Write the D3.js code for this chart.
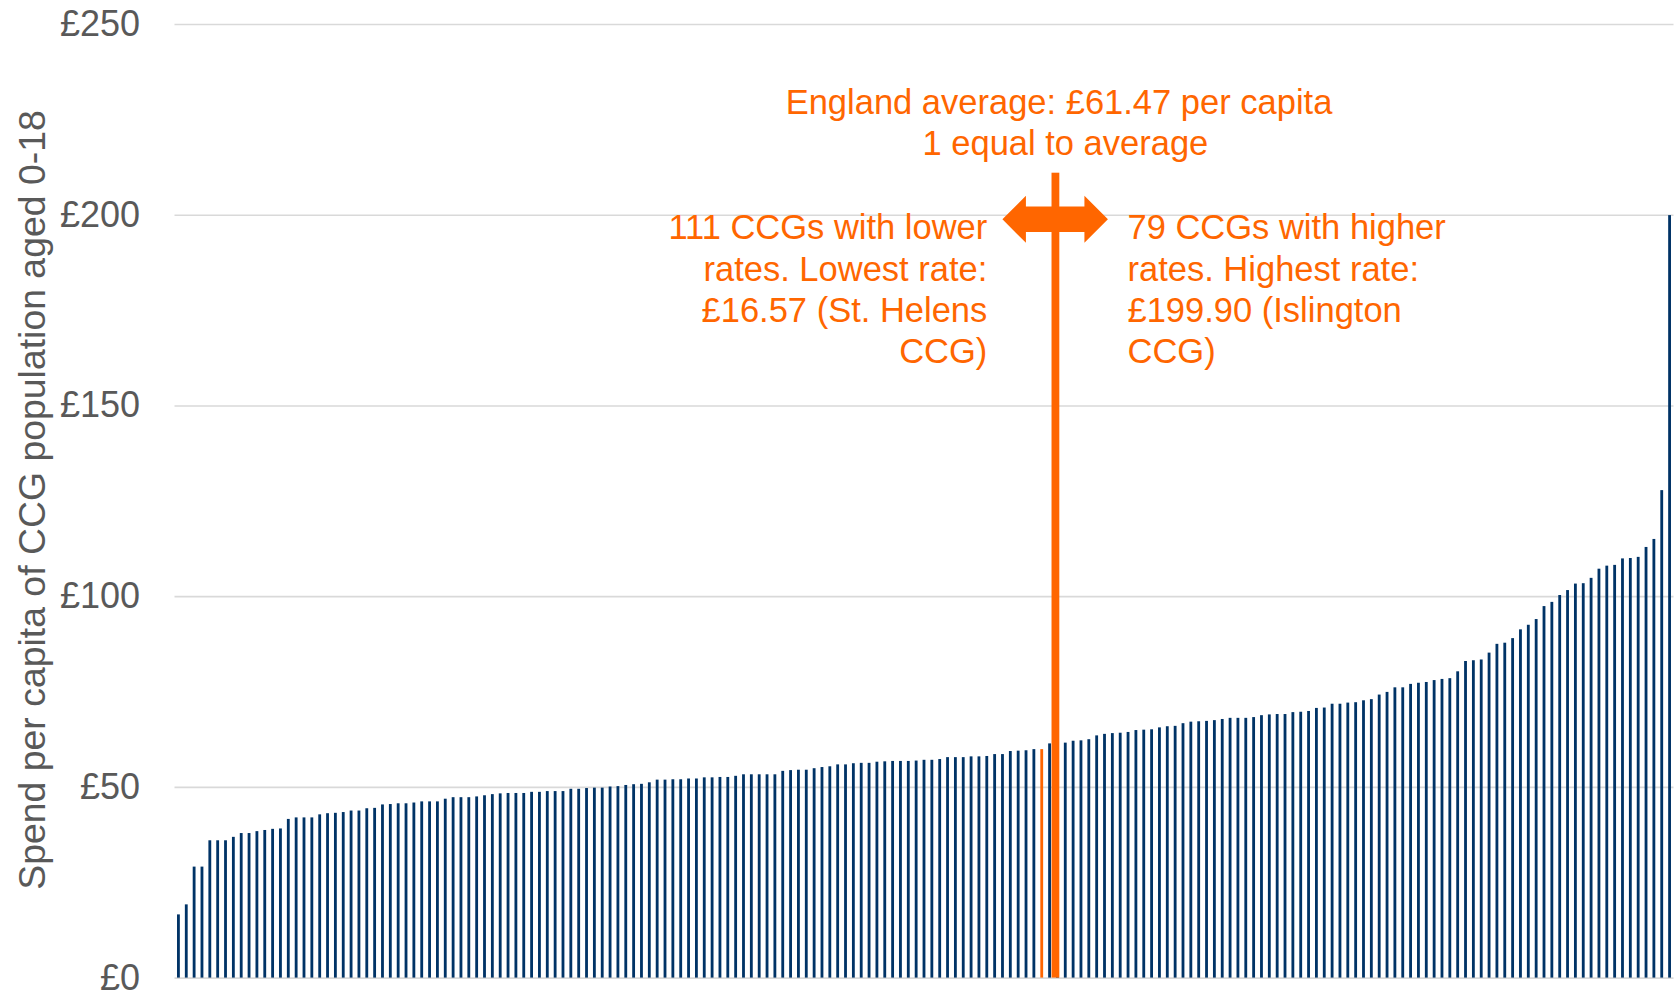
<!DOCTYPE html>
<html>
<head>
<meta charset="utf-8">
<script src="https://cdn.jsdelivr.net/npm/d3@7"></script>
<style>
  body { margin: 0; background: #fff; }
  text { font-family: "Liberation Sans", Arial, sans-serif; }
</style>
</head>
<body>
<div id="chart-area"></div>
<script>
const WIDTH = 1679
const HEIGHT = 994

// spend per capita, CCGs sorted low to high
const values = [
  16.57, 19.2, 29.1, 29.1, 36.0, 36.0, 36.0, 36.9, 37.9, 37.9,
  38.4, 38.7, 39.0, 39.1, 41.6, 42.0, 42.0, 42.0, 42.8, 43.1,
  43.2, 43.4, 43.8, 43.8, 44.4, 44.5, 45.4, 45.5, 45.7, 45.7,
  45.9, 46.2, 46.2, 46.2, 46.9, 47.3, 47.3, 47.3, 47.5, 47.8,
  48.1, 48.3, 48.4, 48.4, 48.4, 48.7, 48.7, 48.9, 48.9, 48.9,
  49.5, 49.5, 49.7, 49.8, 49.8, 50.1, 50.2, 50.5, 50.7, 50.8,
  51.2, 51.9, 51.9, 52.0, 52.0, 52.2, 52.2, 52.5, 52.5, 52.6,
  52.6, 52.9, 53.3, 53.3, 53.3, 53.3, 53.3, 54.2, 54.4, 54.5,
  54.5, 54.9, 55.2, 55.4, 55.9, 55.9, 56.2, 56.3, 56.3, 56.6,
  56.7, 56.8, 56.8, 56.8, 56.9, 57.1, 57.1, 57.3, 57.8, 57.8,
  57.8, 58.0, 58.0, 58.1, 58.6, 58.6, 59.4, 59.5, 59.6, 59.9,
  59.9, 61.4, 61.5, 61.6, 62.1, 62.2, 62.5, 63.5, 63.9, 64.1,
  64.2, 64.4, 64.9, 65.0, 65.1, 65.6, 65.9, 66.0, 66.7, 67.1,
  67.2, 67.3, 67.5, 67.8, 68.1, 68.1, 68.1, 68.3, 68.8, 69.0,
  69.1, 69.1, 69.6, 69.7, 69.9, 70.7, 70.8, 71.8, 71.8, 72.1,
  72.2, 72.7, 73.0, 74.2, 74.9, 76.1, 76.1, 77.0, 77.3, 77.5,
  78.0, 78.3, 78.5, 80.3, 83.0, 83.2, 83.4, 85.2, 87.5, 87.8,
  89.0, 91.3, 92.5, 94.0, 97.4, 98.5, 100.3, 101.6, 103.3, 103.4,
  104.8, 107.2, 108.0, 108.2, 109.9, 110.0, 110.3, 112.9, 115.0, 127.8,
  199.90
]
const categories = values.map((v, i) => "CCG " + (i + 1))
const highlightIndex = 110     // bar drawn in orange
const averageIndex = 112       // where the big orange marker sits

const yTicks = [0, 50, 100, 150, 200, 250]
const yTitle = "Spend per capita of CCG population aged 0-18"
const topNote = ["England average: £61.47 per capita", "1 equal to average"]
const leftNote = ["111 CCGs with lower", "rates. Lowest rate:", "£16.57 (St. Helens", "CCG)"]
const rightNote = ["79 CCGs with higher", "rates. Highest rate:", "£199.90 (Islington", "CCG)"]

const NAVY = "#003366"
const ORANGE = "#ff6600"
const GREY = "#595959"

const svg = d3.select("#chart-area")
  .append("svg")
  .attr("width", WIDTH)
  .attr("height", HEIGHT)

const x = d3.scaleBand()
  .domain(categories)
  .range([174.5, 1673.5])
  .paddingInner(0.64)
  .paddingOuter(0.32)

const y = d3.scaleLinear()
  .domain([0, 250])
  .range([977.6, 24])

// gridlines
const grid = svg.append("g")
  .attr("transform", "translate(174.5, 0)")
  .call(d3.axisLeft(y).tickValues(yTicks).tickSize(-1499).tickFormat(""))
grid.select(".domain").remove()
grid.selectAll("line")
  .attr("stroke", "#d9d9d9")
  .attr("stroke-width", 1.6)

// tick labels
const yAxis = svg.append("g")
  .attr("transform", "translate(174.5, 0)")
  .call(d3.axisLeft(y).tickValues(yTicks).tickSize(0).tickPadding(34.5).tickFormat(d => "£" + d))
yAxis.select(".domain").remove()
yAxis.selectAll("text")
  .attr("fill", GREY)
  .attr("font-size", "36px")
  .attr("font-family", "Liberation Sans, Arial, sans-serif")

// y title
svg.append("text")
  .attr("transform", "translate(45, 500) rotate(-90)")
  .attr("text-anchor", "middle")
  .attr("font-size", "37.4px")
  .attr("fill", GREY)
  .text(yTitle)

// bars
svg.append("g").selectAll("rect")
  .data(values)
  .enter().append("rect")
  .attr("x", (d, i) => x(categories[i]))
  .attr("y", d => y(d))
  .attr("width", x.bandwidth())
  .attr("height", d => y(0) - y(d))
  .attr("fill", (d, i) => i === highlightIndex ? ORANGE : NAVY)

// average marker: thick line + double arrow
const cx = x(categories[averageIndex]) + x.bandwidth() / 2 - 2
svg.append("rect")
  .attr("x", cx - 3.9)
  .attr("y", 172.7)
  .attr("width", 7.8)
  .attr("height", y(0) - 172.7)
  .attr("fill", ORANGE)

const ay = 219.3
const arrow = [
  [cx - 53, ay],
  [cx - 29.5, ay - 23.5],
  [cx - 29.5, ay - 12.8],
  [cx + 29, ay - 12.8],
  [cx + 29, ay - 23.5],
  [cx + 52.5, ay],
  [cx + 29, ay + 23.5],
  [cx + 29, ay + 12.8],
  [cx - 29.5, ay + 12.8],
  [cx - 29.5, ay + 23.5]
]
svg.append("path")
  .attr("d", d3.line()(arrow) + "Z")
  .attr("fill", ORANGE)

// notes
const note = (lines, xPos, y0, anchor, shifts) => {
  svg.append("g").selectAll("text")
    .data(lines)
    .enter().append("text")
    .attr("x", (d, i) => xPos + (shifts ? shifts[i] : 0))
    .attr("y", (d, i) => y0 + i * 41.2)
    .attr("text-anchor", anchor)
    .attr("font-size", "34.5px")
    .attr("fill", ORANGE)
    .text(d => d)
}
note(topNote, 1059, 114, "middle", [0, 6.4])
note(leftNote, 987.3, 239.3, "end")
note(rightNote, 1127.5, 239.3, "start")
</script>
</body>
</html>
